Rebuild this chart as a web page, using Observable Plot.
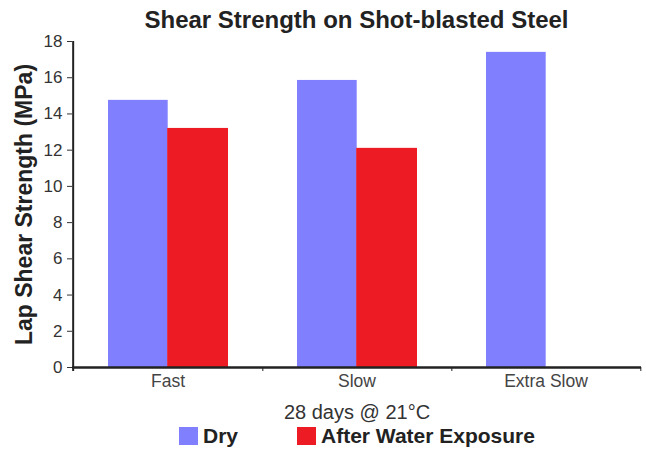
<!DOCTYPE html>
<html>
<head>
<meta charset="utf-8">
<script src="https://cdn.jsdelivr.net/npm/d3@7"></script>
<script src="https://cdn.jsdelivr.net/npm/@observablehq/plot@0.6"></script>
<style>
  body { margin: 0; background: #fff; font-family: "Liberation Sans", Arial, sans-serif; }
  #wrap { width: 646px; height: 453px; position: relative; overflow: hidden; }
  #title { height: 30px; box-sizing: border-box; padding-top: 8px; margin-left: 72px; width: 569px;
           text-align: center; font-weight: bold; font-size: 24px; line-height: 24px; color: #222; white-space: nowrap; }
  #chart svg { display: block; }
  #legend { height: 27px; display: flex; align-items: flex-start; padding-left: 179px; box-sizing: border-box; }
  .item { display: flex; align-items: center; margin-right: 59px; }
  .sw { width: 19px; height: 18px; margin-right: 5px; }
  .lt { font-weight: bold; font-size: 21px; line-height: 20px; color: #222; white-space: nowrap; }
  g[aria-label="y-axis label"] text { font-weight: bold; font-size: 23px; fill: #222; }
  g[aria-label="x-axis label"] text { font-size: 20px; fill: #333; }
</style>
</head>
<body>
<div id="wrap">
  <div id="title">Shear Strength on Shot-blasted Steel</div>
  <div id="chart"></div>
  <div id="legend"></div>
</div>
<script>
const categories = ["Fast", "Slow", "Extra Slow"];
const dryValues = [14.75, 15.85, 17.4];
const wetValues = [13.2, 12.1, null];
const seriesNames = ["Dry", "After Water Exposure"];
const seriesColors = ["#8080ff", "#ed1c24"];
const yTicks = [0, 2, 4, 6, 8, 10, 12, 14, 16, 18];
const yLabel = "Lap Shear Strength (MPa)";
const xLabel = "28 days @ 21°C";

const dryRows = categories.map((c, i) => ({category: c, series: seriesNames[0], value: dryValues[i]})).filter(d => d.value != null);
const wetRows = categories.map((c, i) => ({category: c, series: seriesNames[1], value: wetValues[i]})).filter(d => d.value != null);

const W = 646, H = 396, ML = 72, MR = 5, MT = 11, MB = 59;
const half = (W - ML - MR) / categories.length / 2;

const chart = Plot.plot({
  width: W, height: H,
  marginLeft: ML, marginRight: MR, marginTop: MT, marginBottom: MB,
  style: {fontFamily: '"Liberation Sans", Arial, sans-serif', background: "transparent", overflow: "visible", color: "#333"},
  x: {domain: categories, padding: 0},
  y: {domain: [0, 18]},
  color: {domain: seriesNames, range: seriesColors},
  marks: [
    Plot.barY(dryRows, {x: "category", y: "value", fill: "series", insetLeft: 35, insetRight: 94.3}),
    Plot.barY(wetRows, {x: "category", y: "value", fill: "series", insetLeft: 94.2, insetRight: 34}),
    Plot.axisY({ticks: yTicks, tickSize: 5, tickPadding: 5, fontSize: 17, label: yLabel, labelAnchor: "center", labelArrow: "none", labelOffset: 57}),
    Plot.axisX({tickSize: 0, tickPadding: 7, fontSize: 17.5, fill: "#444", label: xLabel, labelAnchor: "center", labelArrow: "none", labelOffset: 51}),
    Plot.axisX({tickSize: 4, tickFormat: () => "", label: null, dx: half, stroke: "#222"}),
    Plot.ruleY([0], {stroke: "#222", strokeWidth: 2.5}),
    Plot.ruleX([categories[0]], {dx: -half, stroke: "#222", strokeWidth: 2, insetBottom: -4})
  ]
});
document.getElementById("chart").appendChild(chart);

const legend = document.getElementById("legend");
seriesNames.forEach((name, i) => {
  const item = document.createElement("div");
  item.className = "item";
  const sw = document.createElement("div");
  sw.className = "sw";
  sw.style.background = seriesColors[i];
  const lt = document.createElement("span");
  lt.className = "lt";
  lt.textContent = name;
  item.appendChild(sw);
  item.appendChild(lt);
  legend.appendChild(item);
});
</script>
</body>
</html>
